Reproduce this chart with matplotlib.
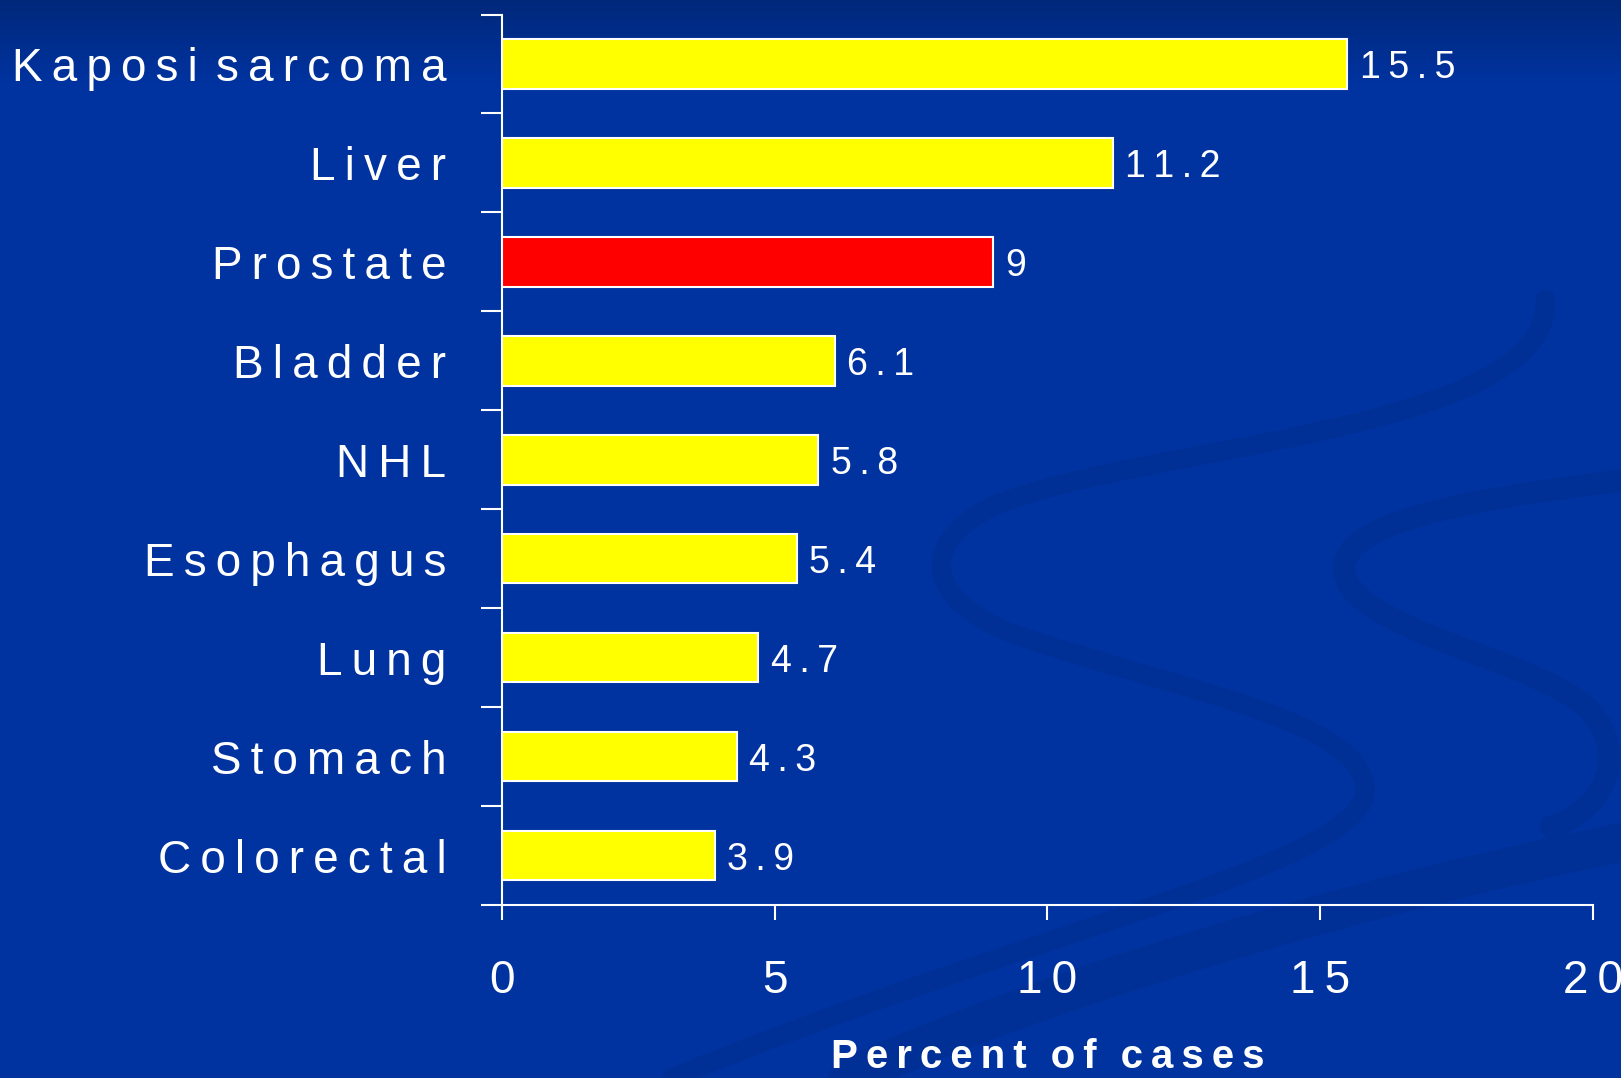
import numpy as np
import matplotlib.pyplot as plt
from matplotlib.path import Path
from matplotlib.patches import PathPatch

# ---------------------------------------------------------------
# Data
# ---------------------------------------------------------------
categories = ['Kaposi sarcoma', 'Liver', 'Prostate', 'Bladder', 'NHL',
              'Esophagus', 'Lung', 'Stomach', 'Colorectal']
percent = [15.5, 11.2, 9, 6.1, 5.8, 5.4, 4.7, 4.3, 3.9]
highlight = 'Prostate'
x_ticks = [0, 5, 10, 15, 20]

BG = '#0033a0'
SWIRL = '#002f96'
YELLOW = '#ffff00'
RED = '#ff0000'

plt.rcParams['font.family'] = ['Liberation Sans', 'DejaVu Sans']

THIN = '\u2009'


def spaced(s, gap=THIN, word_gap=THIN * 2):
    # mimic the wide letter spacing of the slide
    return word_gap.join(gap.join(w) for w in s.split())


# ---------------------------------------------------------------
# Figure + background
# ---------------------------------------------------------------
fig = plt.figure(figsize=(16.21, 10.78), dpi=100)
fig.patch.set_facecolor(BG)

bg = fig.add_axes([0, 0, 1, 1], zorder=-10)
bg.axis('off')

# darker band at the very top
grad = np.linspace(0, 1, 256)
top = np.array([0x00, 0x28, 0x7a]) / 255
mid = np.array([0x00, 0x33, 0xa0]) / 255
img = (top + (mid - top) * grad[:, None])[:, None, :]
bg.imshow(img, extent=[0, 1568, 80, 0], aspect='auto', zorder=0)
bg.set_xlim(0, 1568)
bg.set_ylim(1043, 0)

# decorative swirls
swirls = [
    ([(1495, 290), (1500, 420), (1100, 430), (960, 490),
      (880, 530), (900, 590), (1000, 620),
      (1150, 670), (1330, 700), (1320, 770),
      (1300, 840), (1000, 900), (650, 1043)], 14),
    ([(1568, 465), (1450, 480), (1300, 500), (1300, 550),
      (1300, 610), (1500, 640), (1540, 690),
      (1580, 740), (1540, 790), (1500, 800)], 16),
    ([(1568, 815), (1300, 870), (1000, 960), (820, 1043)], 28),
]
for pts, lw in swirls:
    codes = [Path.MOVETO] + [Path.CURVE4] * (len(pts) - 1)
    bg.add_patch(PathPatch(Path(pts, codes), facecolor='none', edgecolor=SWIRL,
                           lw=lw, capstyle='round', zorder=1))

# ---------------------------------------------------------------
# Bars
# ---------------------------------------------------------------
ax = fig.add_axes([0.3097, 0.1605, 0.6730, 0.8260])
ax.set_facecolor('none')

ypos = np.arange(len(categories))
colors = [RED if c == highlight else YELLOW for c in categories]
ax.barh(ypos, percent, height=0.5, color=colors, edgecolor='white', linewidth=1.5, zorder=3)

for y, v in zip(ypos, percent):
    ax.annotate(spaced(f'{v:g}'), (v, y), xytext=(9, -3), textcoords='offset points',
                va='center', ha='left', color='white', fontsize=27)

ax.set_ylim(len(categories) - 0.5, -0.5)
ax.set_xlim(0, 20)

ax.set_yticks(np.arange(-0.5, len(categories), 1))
ax.set_yticklabels([])
ax.set_yticks(ypos, minor=True)
ax.set_yticklabels([spaced(c) for c in categories], minor=True, fontsize=33, color='white')
ax.tick_params(axis='y', which='major', direction='out', length=15, width=1.5, color='white')
ax.tick_params(axis='y', which='minor', length=0, pad=40)

ax.set_xticks(x_ticks)
ax.set_xticklabels([spaced(str(t)) for t in x_ticks], fontsize=33, color='white')
ax.tick_params(axis='x', direction='out', length=11, width=1.5, color='white', pad=28)

for side in ['top', 'right']:
    ax.spines[side].set_visible(False)
for side in ['left', 'bottom']:
    ax.spines[side].set_color('white')
    ax.spines[side].set_linewidth(1.5)

fig.text(0.3097 + 0.6730 / 2, 0.009, spaced('Percent of cases', THIN, THIN * 3),
         ha='center', va='baseline', color='white', fontsize=29, fontweight='bold')

fig.savefig('out.png', dpi=100, facecolor=fig.get_facecolor())
